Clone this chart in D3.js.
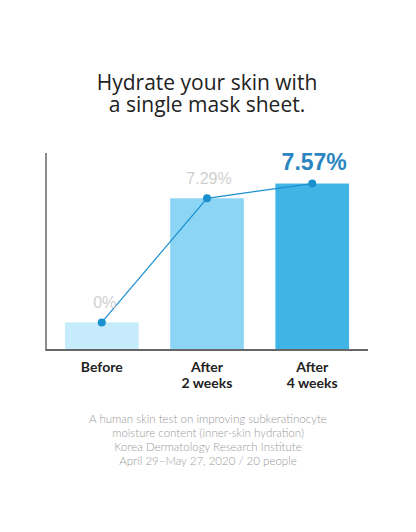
<!DOCTYPE html>
<html><head><meta charset="utf-8">
<script src="https://cdn.jsdelivr.net/npm/d3@7"></script>
<style>html,body{margin:0;padding:0;background:#fff;}</style>
</head><body>
<div id="chart"></div>
<script>
const categories = ["Before", "After\n2 weeks", "After\n4 weeks"];
const barValues = [14, 77, 84.5];          // relative hydration level (bar height)
const increaseLabels = ["0%", "7.29%", "7.57%"];
const barColors = ["#c6ecfb", "#8dd5f5", "#41b4e6"];
const titleLines = ["Hydrate your skin with", "a single mask sheet."];
const noteLines = [
  "A human skin test on improving subkeratinocyte",
  "moisture content (inner-skin hydration)",
  "Korea Dermatology Research Institute",
  "April 29\u2013May 27, 2020 / 20 people"
];

(function () {
const W = 416, H = 532;
const svg = d3.select("#chart").append("svg").attr("width", W).attr("height", H);
svg.append("rect").attr("width", W).attr("height", H).attr("fill", "#fff");

const pLeft = 46, pRight = 368, pTop = 153, pBottom = 350;
const x = d3.scaleBand().domain(categories).range([pLeft, pRight]).paddingInner(0.3).paddingOuter(0.18);
const y = d3.scaleLinear().domain([0, 100]).range([pBottom, pBottom - 197]);

// title (one text element, two lines)
const title = svg.append("text").attr("text-anchor", "middle")
  .attr("font-family", "'Open Sans', sans-serif").attr("font-size", 21).attr("fill", "#222");
title.selectAll("tspan").data(titleLines).join("tspan")
  .attr("x", 207).attr("y", (d, i) => 90 + i * 22).text(d => d);

// bars
svg.append("g").selectAll("rect").data(categories).join("rect")
  .attr("x", d => x(d)).attr("width", x.bandwidth())
  .attr("y", (d, i) => y(barValues[i])).attr("height", (d, i) => y(0) - y(barValues[i]))
  .attr("fill", (d, i) => barColors[i]);

// axes
svg.append("line").attr("x1", pLeft).attr("x2", pLeft).attr("y1", pTop).attr("y2", pBottom + 1)
  .attr("stroke", "#666").attr("stroke-width", 1.5);
svg.append("line").attr("x1", pLeft).attr("x2", pRight).attr("y1", pBottom).attr("y2", pBottom)
  .attr("stroke", "#666").attr("stroke-width", 2);

// line + dots
const pts = categories.map((c, i) => [x(c) + x.bandwidth() / 2, y(barValues[i])]);
svg.append("path").attr("d", d3.line()(pts)).attr("fill", "none")
  .attr("stroke", "#1a90cf").attr("stroke-width", 1.2);
svg.append("g").selectAll("circle").data(pts).join("circle")
  .attr("cx", d => d[0]).attr("cy", d => d[1]).attr("r", 4).attr("fill", "#1a90cf");

// value labels
svg.append("g").selectAll("text").data(increaseLabels).join("text")
  .attr("x", (d, i) => pts[i][0] + (i === 0 ? 3 : 2))
  .attr("y", (d, i) => y(barValues[i]) - 14)
  .attr("text-anchor", "middle")
  .attr("font-family", "'Liberation Sans', Arial, sans-serif")
  .attr("font-size", (d, i) => i === 2 ? 23 : 16)
  .attr("font-weight", (d, i) => i === 2 ? 700 : 400)
  .attr("fill", (d, i) => i === 2 ? "#2a86c0" : "#cfcfcf")
  .text(d => d);

// category labels
const xl = svg.append("g");
categories.forEach(c => {
  const t = xl.append("text").attr("text-anchor", "middle")
    .attr("font-family", "Lato, 'Open Sans', sans-serif")
    .attr("font-size", 14).attr("font-weight", 700).attr("fill", "#222");
  c.split("\n").forEach((line, j) => {
    t.append("tspan").attr("x", x(c) + x.bandwidth() / 2).attr("y", 372 + j * 16).text(line);
  });
});

// footnote
svg.append("g").selectAll("text").data(noteLines).join("text")
  .attr("x", 208).attr("y", (d, i) => 423 + i * 14)
  .attr("text-anchor", "middle").attr("font-family", "Lato, 'Open Sans', sans-serif")
  .attr("font-size", 11.5).attr("font-weight", 300).attr("fill", "#9a9a9a").text(d => d);
})();
</script>
</body></html>
